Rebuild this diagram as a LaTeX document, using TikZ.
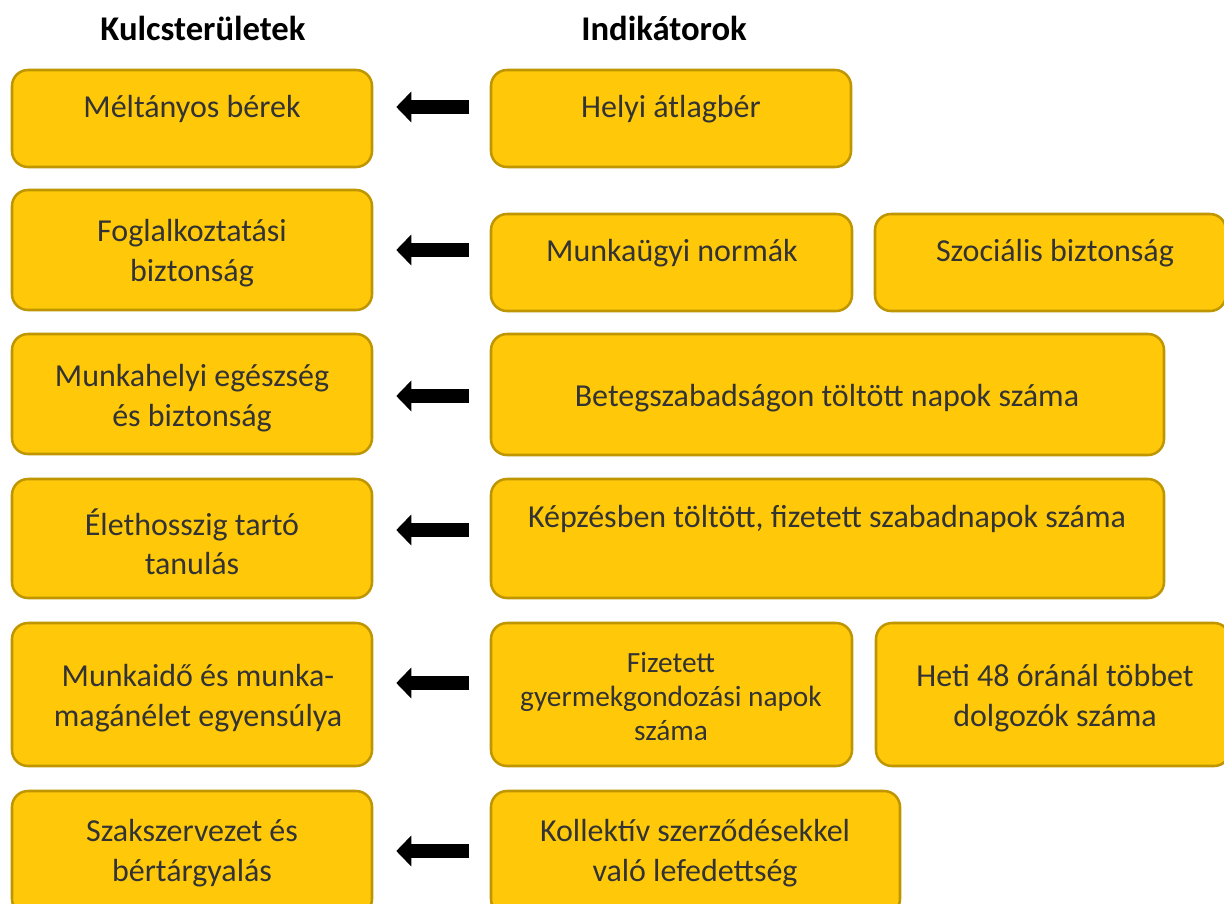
\documentclass[tikz,border=0pt]{standalone}
\usepackage{fontspec}
\setmainfont{Carlito}
\usetikzlibrary{arrows.meta}
\definecolor{gold}{HTML}{FFC90A}
\definecolor{golddark}{HTML}{BF9500}
\definecolor{ink}{HTML}{333333}
\tikzset{
  cell/.style={draw=golddark,line width=1.9pt,fill=gold,rounded corners=12pt,inner sep=0pt},
  txt/.style={text=ink,align=center,yshift=-1.5pt,font=\fontsize{24}{29.5}\selectfont},
  head/.style={font=\bfseries\fontsize{26}{30}\selectfont},
  bigarrow/.style={line width=10.5pt,-{Triangle[length=11.25pt,width=22.5pt]},shorten <=15.75pt,shorten >=17.25pt}
}
\begin{document}
\begin{tikzpicture}[x=0.75pt,y=-0.75pt]
        \useasboundingbox (0,0) rectangle (1224,903);
        %% headings
        \node[head] (hk) at (203,28) {Kulcsterületek};
        \node[head] (hi) at (664,28) {Indikátorok};
        %% key areas
        \node[cell,minimum width=270pt,minimum height=72.75pt] (l1) at (192,118.5) {};
        \node[cell,minimum width=270pt,minimum height=90pt] (l2) at (192,250) {};
        \node[cell,minimum width=270pt,minimum height=90pt] (l3) at (192,394) {};
        \node[cell,minimum width=270pt,minimum height=89.25pt] (l4) at (192,538.5) {};
        \node[cell,minimum width=270pt,minimum height=107.25pt] (l5) at (192,694.5) {};
        \node[cell,minimum width=270pt,minimum height=93pt] (l6) at (192,853) {};
        \node[txt] (l1t) at (192,107) {Méltányos bérek};
        \node[txt] (l2t) at (192,251) {Foglalkoztatási\\biztonság};
        \node[txt] (l3t) at (192,396) {Munkahelyi egészség\\és biztonság};
        \node[txt] (l4t) at (192,540) {Élethosszig tartó\\tanulás};
        \node[txt] (l5t) at (198,696) {Munkaidő és munka-\\magánélet egyensúlya};
        \node[txt] (l6t) at (192,851) {Szakszervezet és\\bértárgyalás};
        %% indicators
        \node[cell,minimum width=270pt,minimum height=72.75pt] (r1) at (671,118.5) {};
        \node[cell,minimum width=270.75pt,minimum height=72.75pt] (r2a) at (671.5,262.5) {};
        \node[cell,minimum width=263.25pt,minimum height=72.75pt] (r2b) at (1050.5,262.5) {};
        \node[cell,minimum width=504.75pt,minimum height=90.75pt] (r3) at (827.5,394.5) {};
        \node[cell,minimum width=504.75pt,minimum height=89.25pt] (r4) at (827.5,538.5) {};
        \node[cell,minimum width=270.75pt,minimum height=107.25pt] (r5a) at (671.5,694.5) {};
        \node[cell,minimum width=265.5pt,minimum height=107.25pt] (r5b) at (1053,694.5) {};
        \node[cell,minimum width=306.75pt,minimum height=93pt] (r6) at (695.5,853) {};
        \node[txt] (r1t) at (671,107) {Helyi átlagbér};
        \node[txt] (r2at) at (672,251) {Munkaügyi normák};
        \node[txt] (r2bt) at (1055,251) {Szociális biztonság};
        \node[txt] (r3t) at (827,396) {Betegszabadságon töltött napok száma};
        \node[txt] (r4t) at (827,517) {Képzésben töltött, fizetett szabadnapok száma};
        \node[txt,font=\fontsize{22}{25.5}\selectfont] (r5at) at (671,695) {Fizetett\\gyermekgondozási napok\\száma};
        \node[txt] (r5bt) at (1055,696) {Heti 48 óránál többet\\dolgozók száma};
        \node[txt] (r6t) at (695,851) {Kollektív szerződésekkel\\való lefedettség};
        %% arrows
        \coordinate (a1) at (0,107);
        \coordinate (a2) at (0,250);
        \coordinate (a3) at (0,396);
        \coordinate (a4) at (0,530);
        \coordinate (a5) at (0,683);
        \coordinate (a6) at (0,851);
        \draw[bigarrow] (r1.west |- a1) -- (l1.east |- a1);
        \draw[bigarrow] (r2a.west |- a2) -- (l2.east |- a2);
        \draw[bigarrow] (r3.west |- a3) -- (l3.east |- a3);
        \draw[bigarrow] (r4.west |- a4) -- (l4.east |- a4);
        \draw[bigarrow] (r5a.west |- a5) -- (l5.east |- a5);
        \draw[bigarrow] (r6.west |- a6) -- (l6.east |- a6);
    \end{tikzpicture}
\end{document}
